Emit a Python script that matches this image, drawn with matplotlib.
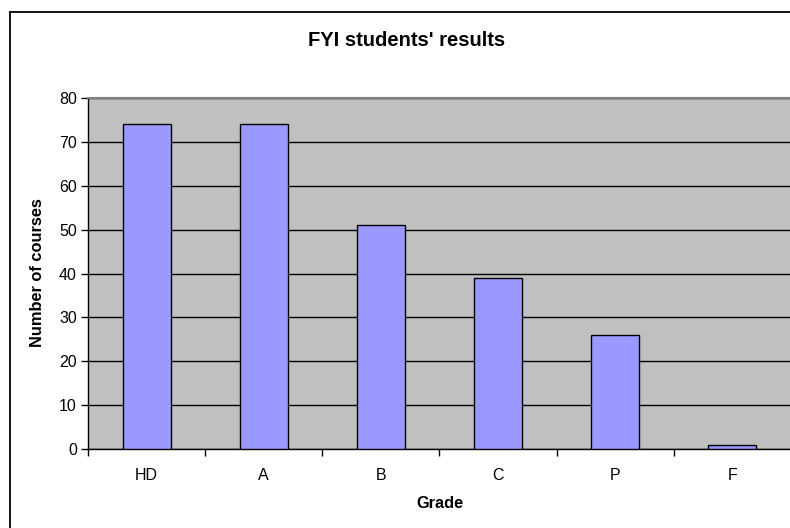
import matplotlib
matplotlib.use("Agg")
import matplotlib.pyplot as plt
import numpy as np

plt.rcParams['font.family'] = ['Liberation Sans', 'DejaVu Sans']

grades = ["HD", "A", "B", "C", "P", "F"]
counts = [74, 74, 51, 39, 26, 1]
yticks = [0, 10, 20, 30, 40, 50, 60, 70, 80]

W, H = 790, 528
fig = plt.figure(figsize=(W / 100, H / 100), dpi=100)
fig.patch.set_facecolor('white')

# outer chart border (left and top visible; rest cut off)
fig.add_artist(plt.Line2D([9.5 / W, 9.5 / W], [0, 1 - 11.5 / H], transform=fig.transFigure,
                          color='black', lw=1.3))
fig.add_artist(plt.Line2D([9.5 / W, 1], [1 - 11.5 / H, 1 - 11.5 / H], transform=fig.transFigure,
                          color='black', lw=1.3))

left, right, top, bottom = 88, 791, 98, 449
ax = fig.add_axes([left / W, 1 - bottom / H, (right - left) / W, (bottom - top) / H])
ax.set_facecolor('#C0C0C0')

x = np.arange(len(grades))
ax.bar(x, counts, width=0.41, color='#9999FF', edgecolor='black', linewidth=1.0, zorder=3)

ax.set_xlim(-0.5, len(grades) - 0.5)
ax.set_ylim(0, 80)
ax.set_yticks(yticks)
ax.yaxis.grid(True, color='black', linewidth=1.0, zorder=1)
ax.set_axisbelow(True)

ax.set_xticks(x)
ax.set_xticklabels(grades, fontsize=11.5)
ax.set_xticks(np.arange(len(grades) + 1) - 0.5, minor=True)
ax.tick_params(axis='x', which='major', length=0, pad=14)
ax.tick_params(axis='x', which='minor', length=5, width=1, color='black', direction='out')
ax.tick_params(axis='y', length=5, width=1, color='black', direction='out', labelsize=11.5, pad=3)

for s in ['left', 'bottom']:
    ax.spines[s].set_color('black')
    ax.spines[s].set_linewidth(1.0)
ax.spines['top'].set_color('#808080')
ax.spines['top'].set_linewidth(1.5)
ax.spines['right'].set_visible(False)

fig.text(407 / W, 1 - 41 / H, "FYI students' results", ha='center', va='center',
         fontsize=14.5, fontweight='bold')
fig.text(440 / W, 1 - 503 / H, "Grade", ha='center', va='center', fontsize=11.8, fontweight='bold')
fig.text(38 / W, 1 - 273 / H, "Number of courses", ha='center', va='center', fontsize=11.8,
         fontweight='bold', rotation=90)

fig.savefig("out.png", dpi=100)
